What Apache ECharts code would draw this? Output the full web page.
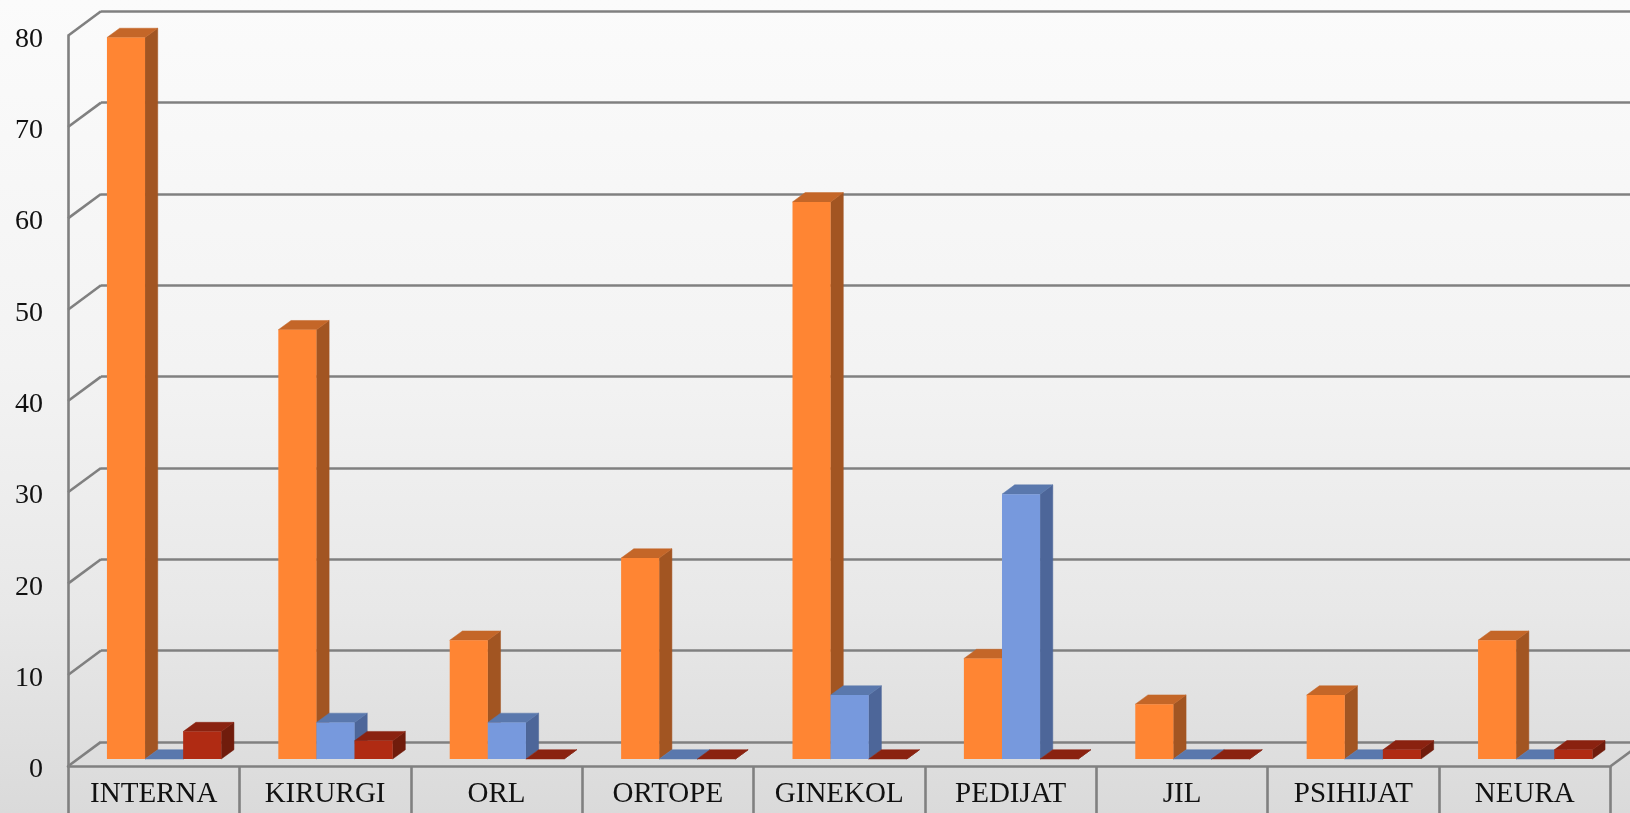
<!DOCTYPE html>
<html><head><meta charset="utf-8">
<style>html,body{margin:0;padding:0;background:#fff}#c{width:1630px;height:813px}</style>
<script src="https://cdn.jsdelivr.net/npm/echarts@6/dist/echarts.min.js"></script>
</head><body><div id="c"></div>
<script>
const categories = ['INTERNA','KIRURGI','ORL','ORTOPE','GINEKOL','PEDIJAT','JIL','PSIHIJAT','NEURA'];
const orangeValues = [79,47,13,22,61,11,6,7,13];
const blueValues   = [0,4,4,0,7,29,0,0,0];
const redValues    = [3,2,0,0,0,0,0,1,1];
const yTicks = [0,10,20,30,40,50,60,70,80];

const FONT = '"Liberation Serif", serif';
const LINE = '#808080';
const LW = 2.6;
const WALL_DX = 33, WALL_DY = 24.4;     // wall depth
const PLANE_DX = 10.4, PLANE_DY = 7.3; // bars sit this far behind the front plane
const SIDE_DX = 12.7, SIDE_DY = 9.3;   // bar depth
const BAR_W = 38.1;

function barSeries(name, values, idx, front, side, top) {
  return {
    name, type:'custom', xAxisIndex:0, yAxisIndex:0, z:3,
    data: values.map((v,i)=>[i,v]),
    renderItem(params, api) {
      const base = api.coord([api.value(0), 0]);
      const head = api.coord([api.value(0), api.value(1)]);
      const x0 = base[0] + PLANE_DX + (idx-1.5)*BAR_W;
      const x1 = x0 + BAR_W;
      const yb = base[1] - PLANE_DY;
      const yt = head[1] - PLANE_DY;
      const poly = (pts, fill) => ({type:'polygon', shape:{points:pts}, style:{fill, stroke:fill, lineWidth:0.5}});
      return {type:'group', children:[
        poly([[x1,yb],[x1+SIDE_DX,yb-SIDE_DY],[x1+SIDE_DX,yt-SIDE_DY],[x1,yt]], side),
        poly([[x0,yt],[x1,yt],[x1+SIDE_DX,yt-SIDE_DY],[x0+SIDE_DX,yt-SIDE_DY]], top),
        {type:'rect', shape:{x:x0,y:yt,width:BAR_W,height:yb-yt}, style:{fill:front}}
      ]};
    }
  };
}
function diagonal(cs, x, y) {
  return {type:'line', shape:{x1:x,y1:y,x2:x+WALL_DX,y2:y-WALL_DY}, style:{stroke:LINE,lineWidth:LW}};
}

const chart = echarts.init(document.getElementById('c'), null, {renderer:'canvas'});
chart.setOption({
  animation:false,
  backgroundColor:{type:'linear',x:0,y:0,x2:0,y2:1,colorStops:[
    {offset:0,color:'#fbfbfb'},{offset:0.45,color:'#f3f3f3'},{offset:0.75,color:'#e8e8e8'},{offset:1,color:'#dadada'}]},
  grid:[
    {left:68, right:19.5, top:35.7, bottom:46.7},
    {left:68+WALL_DX, right:19.5-WALL_DX, top:35.7-WALL_DY, bottom:46.7+WALL_DY}
  ],
  xAxis:[
    {type:'category', gridIndex:0, data:categories, boundaryGap:true,
     axisLine:{show:true,lineStyle:{color:LINE,width:LW}},
     axisTick:{show:true,length:47,alignWithLabel:false,lineStyle:{color:LINE,width:LW}},
     axisLabel:{interval:0,color:'#111',fontFamily:FONT,fontSize:29,margin:14},
     splitLine:{show:false}},
    {type:'category', gridIndex:1, data:categories, show:false}
  ],
  yAxis:[
    {type:'value', gridIndex:0, min:0, max:80, interval:10,
     axisLine:{show:true,lineStyle:{color:LINE,width:LW}},
     axisTick:{show:false}, splitLine:{show:false},
     axisLabel:{color:'#111',fontFamily:FONT,fontSize:28,margin:25,verticalAlign:'top',lineHeight:7}},
    {type:'value', gridIndex:1, min:0, max:80, interval:10,
     axisLine:{show:false}, axisTick:{show:false}, axisLabel:{show:false},
     splitLine:{show:true,lineStyle:{color:LINE,width:LW}}}
  ],
  series:[
    {type:'custom', name:'wall', xAxisIndex:0, yAxisIndex:0, z:1, data:yTicks.map(v=>[0,v]),
     renderItem(params, api){ return diagonal(params.coordSys, params.coordSys.x, api.coord([0,api.value(1)])[1]); }},
    {type:'custom', name:'floor', xAxisIndex:0, yAxisIndex:0, z:1, data:[[8,0]],
     renderItem(params, api){ const c=params.coordSys; return diagonal(c, c.x+c.width, api.coord([8,0])[1]); }},
    barSeries('A', orangeValues, 0, '#ff8533', '#a25522', '#c46628'),
    barSeries('B', blueValues, 1, '#7799dd', '#4d6699', '#5a78ad'),
    barSeries('C', redValues, 2, '#b02b13', '#701c0c', '#8a2210')
  ]
});
</script></body></html>
